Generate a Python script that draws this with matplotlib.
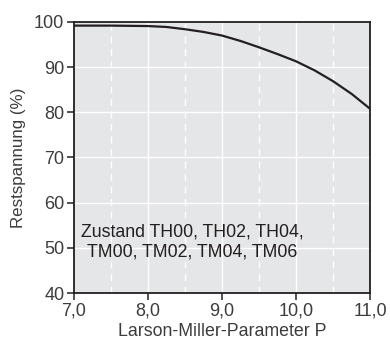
import matplotlib.pyplot as plt
from matplotlib.ticker import FixedLocator, FuncFormatter

plt.rcParams["font.family"] = ["Liberation Sans", "DejaVu Sans"]

# curve
P = [7.0, 7.5, 8.0, 8.25, 8.5, 8.75, 9.0, 9.25, 9.5, 9.75,
     10.0, 10.25, 10.5, 10.75, 11.0]
rest = [99.2, 99.2, 99.1, 98.9, 98.4, 97.8, 97.0, 95.8, 94.4, 92.9,
        91.3, 89.3, 86.9, 84.1, 80.8]

x_major = [7.0, 8.0, 9.0, 10.0, 11.0]
x_minor = [7.5, 8.5, 9.5, 10.5]
y_major = [40, 50, 60, 70, 80, 90, 100]

note = "Zustand TH00, TH02, TH04,\nTM00, TM02, TM04, TM06"

dark = "#231f20"
grey_text = "#3c3c3c"

fig = plt.figure(figsize=(3.9, 3.45), dpi=100)
ax = fig.add_axes([74/390, 1 - 293/345, 296/390, 271/345])
ax.set_facecolor("#e5e6e8")

ax.plot(P, rest, color=dark, lw=1.6, zorder=3, solid_joinstyle="round")

ax.set_xlim(7.0, 11.0)
ax.set_ylim(40, 100)
ax.xaxis.set_major_locator(FixedLocator(x_major))
ax.xaxis.set_minor_locator(FixedLocator(x_minor))
ax.yaxis.set_major_locator(FixedLocator(y_major))
ax.xaxis.set_major_formatter(FuncFormatter(lambda v, _: f"{v:.1f}".replace(".", ",")))

for v in x_major[1:-1]:
    ax.axvline(v, color="white", lw=1.0, zorder=1)
for v in x_minor:
    ax.axvline(v, color="white", lw=1.0, ls=(0, (5, 4)), zorder=1)
for v in y_major[1:-1]:
    ax.axhline(v, color="white", lw=1.0, zorder=1)

for s in ax.spines.values():
    s.set_color(dark)
    s.set_linewidth(1.3)

ax.tick_params(which="major", direction="out", length=5, width=1.1, color=dark,
               labelsize=13, labelcolor=grey_text, pad=2)
ax.tick_params(which="minor", length=0)

ax.set_xlabel("Larson-Miller-Parameter P", fontsize=12.8, color=grey_text, labelpad=2)
ax.set_ylabel("Restspannung (%)", fontsize=12.2, color=grey_text, labelpad=6)

ax.text(8.60, 51.2, note, ha="center", va="center", fontsize=12.8,
        color=dark, linespacing=1.22)

fig.savefig("out.png", dpi=100)
